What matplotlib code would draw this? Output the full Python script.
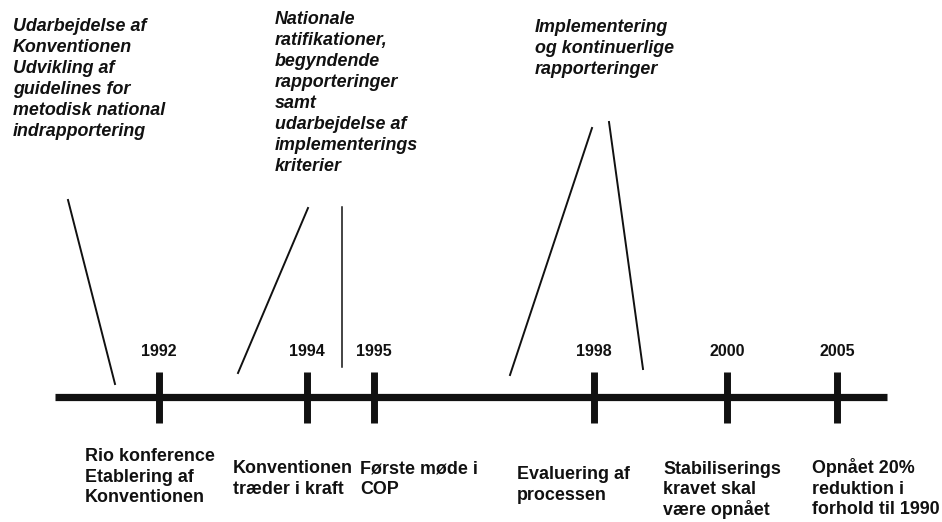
import matplotlib
matplotlib.use("Agg")
import matplotlib.pyplot as plt

plt.rcParams["font.family"] = ["Liberation Sans", "DejaVu Sans"]

# milestones on the time line
years = ["1992", "1994", "1995", "1998", "2000", "2005"]
tick_x = [159, 307, 374, 594, 727, 837]

# event texts below the line
below_labels = [
    ["Rio konference", "Etablering af", "Konventionen"],
    ["Konventionen", "træder i kraft"],
    ["Første møde i", "COP"],
    ["Evaluering af", "processen"],
    ["Stabiliserings", "kravet skal", "være opnået"],
    ["Opnået 20%", "reduktion i", "forhold til 1990"],
]
below_pos = [(85, 455), (233, 467), (360, 467), (517, 473), (663, 468), (812, 467)]

# phase texts above the line
above_labels = [
    ["Udarbejdelse af", "Konventionen", "Udvikling af", "guidelines for",
     "metodisk national", "indrapportering"],
    ["Nationale", "ratifikationer,", "begyndende", "rapporteringer", "samt",
     "udarbejdelse af", "implementerings", "kriterier"],
    ["Implementering", "og kontinuerlige", "rapporteringer"],
]
above_pos = [(13, 25), (275, 18), (535, 26)]

# pointer lines from phase texts down to the line
pointers = [
    ((68, 200), (115, 384), 1.4),
    ((308, 208), (238, 373), 1.4),
    ((342, 207), (342, 367), 1.1),
    ((592, 128), (510, 375), 1.4),
    ((609, 122), (643, 369), 1.4),
]

line_y = 397
line_h = 21

fig = plt.figure(figsize=(9.42, 5.22), dpi=100)
ax = fig.add_axes([0, 0, 1, 1])
ax.set_xlim(0, 942)
ax.set_ylim(522, 0)
ax.axis("off")

# main time line
ax.plot([55, 887], [line_y, line_y], color="#111111", lw=5.2, solid_capstyle="butt")
for x, yr in zip(tick_x, years):
    ax.plot([x, x], [372, 423], color="#111111", lw=5.0, solid_capstyle="butt")
    ax.text(x, 352, yr, ha="center", va="center", fontsize=11.5,
            fontweight="bold", color="#111111")

for (x0, y0), (x1, y1), lw in pointers:
    ax.plot([x0, x1], [y0, y1], color="#111111", lw=lw)

for lines, (x, y) in zip(below_labels, below_pos):
    for i, s in enumerate(lines):
        ax.text(x, y + i * 20.5 + 6, s, ha="left", va="baseline", fontsize=12.9,
                fontweight="bold", color="#111111")

for lines, (x, y) in zip(above_labels, above_pos):
    for i, s in enumerate(lines):
        ax.text(x, y + i * line_h + 6, s, ha="left", va="baseline", fontsize=12.9,
                fontweight="bold", fontstyle="italic", color="#111111")

fig.savefig("out.png", dpi=100, facecolor="white")
plt.close(fig)
